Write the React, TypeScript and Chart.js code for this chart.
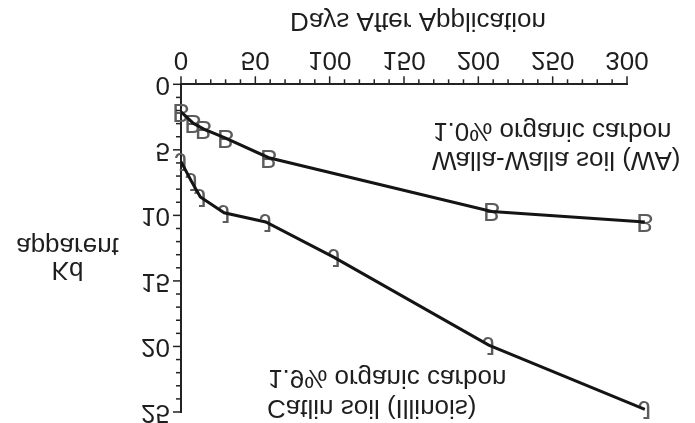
import React, { useEffect, useRef } from "react";
import { Chart, registerables } from "chart.js";

Chart.register(...registerables);

// Walla-Walla soil (WA), 1.0% organic carbon
const wallaDays = [0, 8, 15, 30, 59, 209, 312];
const wallaKd = [2.1, 2.95, 3.4, 4.1, 5.6, 9.7, 10.5];
// Catlin soil (Illinois), 1.9% organic carbon
const catlinDays = [0, 7, 13, 29, 57, 103, 207, 312];
const catlinKd = [5.9, 7.4, 8.6, 9.8, 10.5, 13.2, 19.9, 24.8];

const seriesMarkers = ["B", "J"];
const xTickStep = 50;
const xMinorStep = 10;
const yTickStep = 5;
const yMinorStep = 1;

const FONT = "'Liberation Sans', Arial, Helvetica, sans-serif";

const textPlugin = {
  id: "flippedText",
  beforeDatasetsDraw(chart: any) {
    const ctx = chart.ctx;
    ctx.save();
    ctx.font = `26px ${FONT}`;
    ctx.fillStyle = "#5c5c5c";
    ctx.textAlign = "center";
    ctx.textBaseline = "middle";
    chart.data.datasets.forEach((_ds: any, i: number) => {
      const meta = chart.getDatasetMeta(i);
      meta.data.forEach((pt: any) => ctx.fillText(seriesMarkers[i], pt.x, pt.y + 1));
    });
    ctx.restore();
  },
  afterDraw(chart: any) {
    const ctx = chart.ctx;
    const xs = chart.scales.x;
    const ys = chart.scales.y;
    const area = chart.chartArea;
    ctx.save();
    ctx.strokeStyle = "#222";
    ctx.lineWidth = 1.5;
    // x ticks
    for (let v = xs.min; v <= xs.max + 1e-9; v += xMinorStep) {
      const px = xs.getPixelForValue(v);
      const major = Math.abs(v % xTickStep) < 1e-9;
      ctx.beginPath();
      ctx.moveTo(px, area.bottom);
      ctx.lineTo(px, area.bottom + (major ? 8 : 5));
      ctx.stroke();
    }
    // y ticks
    for (let v = ys.min; v <= ys.max + 1e-9; v += yMinorStep) {
      const py = ys.getPixelForValue(v);
      const major = Math.abs(v % yTickStep) < 1e-9;
      ctx.beginPath();
      ctx.moveTo(area.left, py);
      ctx.lineTo(area.left - (major ? 8 : 5), py);
      ctx.stroke();
    }
    ctx.fillStyle = "#1e1e1e";
    ctx.font = `26px ${FONT}`;
    ctx.textBaseline = "alphabetic";
    ctx.textAlign = "center";
    ctx.fillText("Days After Application", 418, 410);
    ctx.fillText("Kd", 67.5, 161);
    ctx.fillText("apparent", 67.5, 185);
    ctx.textAlign = "left";
    ctx.fillText("Catlin soil (Illinois)", 267, 23);
    ctx.fillText("1.9% organic carbon", 268, 53);
    ctx.fillText("Walla-Walla soil (WA)", 432, 271);
    ctx.fillText("1.0% organic carbon", 433, 300);
    ctx.restore();
  },
};

export default function App() {
  const ref = useRef<HTMLCanvasElement | null>(null);
  useEffect(() => {
    document.body.style.margin = "0";
    if (!ref.current) return;
    const chart = new Chart(ref.current, {
      type: "line",
      data: {
        datasets: [
          {
            label: "Walla-Walla soil (WA)",
            data: wallaDays.map((d, i) => ({ x: d, y: wallaKd[i] })),
            borderColor: "#141414",
            borderWidth: 3,
            pointRadius: 0,
            tension: 0,
            clip: false as any,
          },
          {
            label: "Catlin soil (Illinois)",
            data: catlinDays.map((d, i) => ({ x: d, y: catlinKd[i] })),
            borderColor: "#141414",
            borderWidth: 3,
            pointRadius: 0,
            tension: 0,
            clip: false as any,
          },
        ],
      },
      options: {
        animation: false,
        responsive: false,
        layout: { padding: { top: 11, right: 68, left: 0, bottom: 0 } },
        plugins: { legend: { display: false }, tooltip: { enabled: false } },
        scales: {
          x: {
            type: "linear",
            min: 0,
            max: 300,
            grid: { display: false, drawTicks: false },
            border: { display: true, color: "#222", width: 2 },
            ticks: {
              stepSize: xTickStep,
              padding: 10,
              color: "#1e1e1e",
              font: { family: FONT, size: 26 },
              maxRotation: 0,
            },
            afterFit: (s: any) => {
              s.height = 84.3;
              s.paddingLeft = 0;
              s.paddingRight = 0;
            },
          },
          y: {
            type: "linear",
            min: 0,
            max: 25,
            grid: { display: false, drawTicks: false },
            border: { display: true, color: "#222", width: 2 },
            ticks: {
              stepSize: yTickStep,
              padding: 11,
              color: "#1e1e1e",
              font: { family: FONT, size: 26 },
            },
            afterFit: (s: any) => {
              s.width = 181;
              s.paddingTop = 0;
              s.paddingBottom = 0;
            },
          },
        },
      },
      plugins: [textPlugin],
    });
    return () => chart.destroy();
  }, []);
  return (
    <div style={{ width: 695, height: 423, background: "#fff" }}>
      <canvas
        ref={ref}
        width={695}
        height={423}
        style={{ display: "block", transform: "scaleY(-1)" }}
      />
    </div>
  );
}
